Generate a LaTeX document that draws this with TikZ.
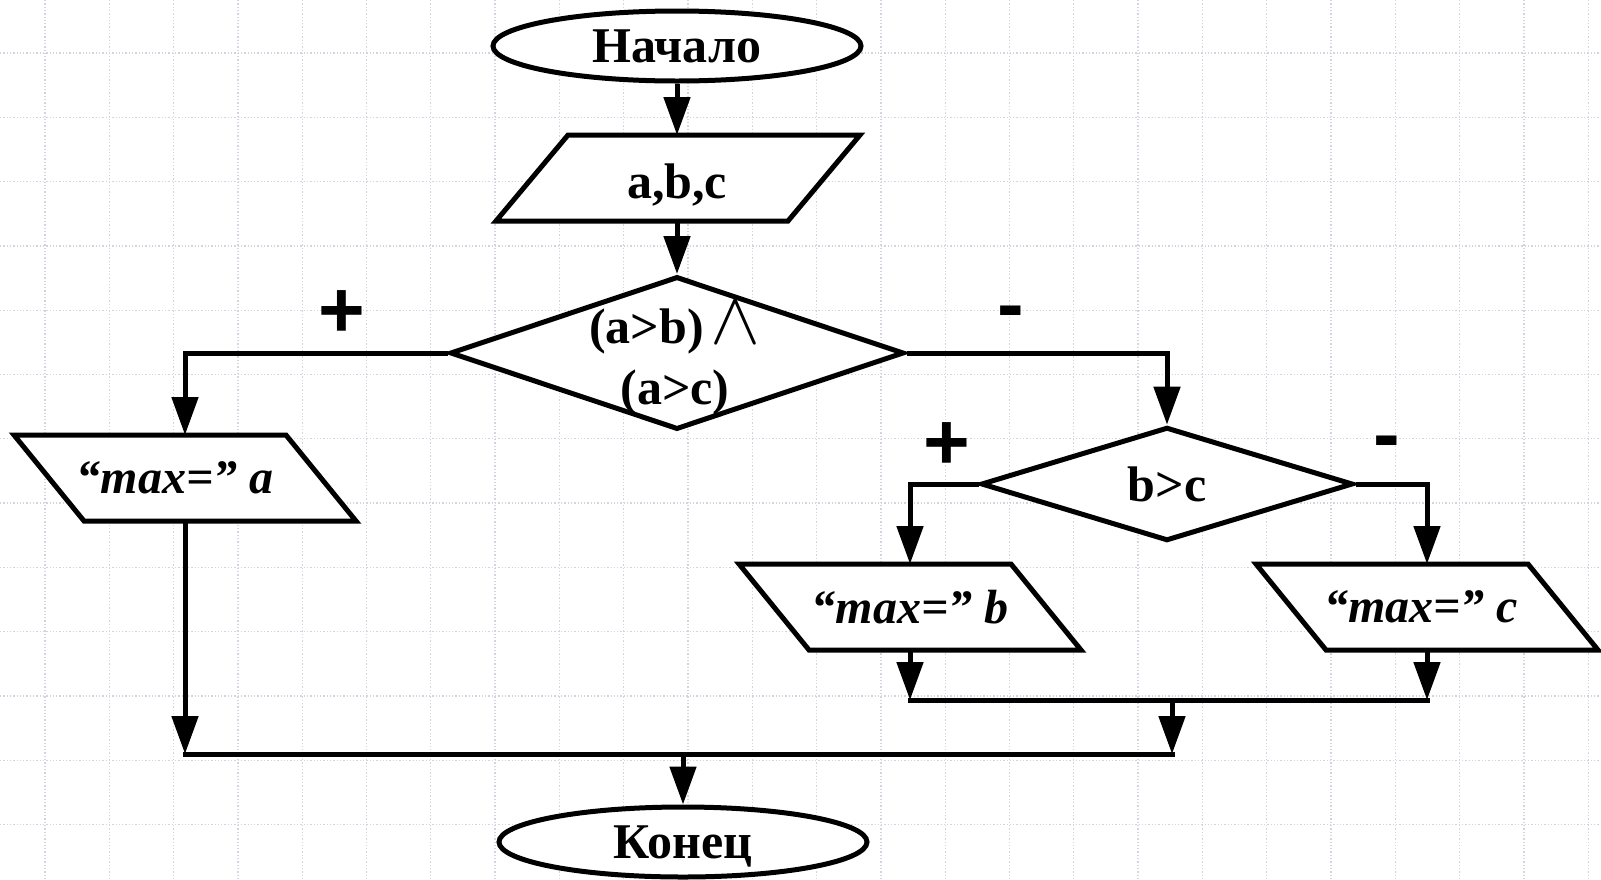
\documentclass[tikz,border=0pt]{standalone}
\usepackage{fontspec}
\setmainfont{Liberation Serif}
\newfontfamily\lsans{Liberation Sans}
\usetikzlibrary{shapes.geometric,arrows.meta}
\definecolor{gridc}{RGB}{212,212,224}
% parallelogram outline: #1 cx, #2 cy, #3 half width, #4 slant (+ = top shifted right)
\newcommand\ioshape[4]{%
  \draw[box,fill=white] ({#1-#3+#4},{#2-43}) -- ({#1+#3+#4},{#2-43}) -- ({#1+#3-#4},{#2+43}) -- ({#1-#3-#4},{#2+43}) -- cycle;}
\begin{document}
\begin{tikzpicture}[x=1pt,y=-1pt,
  box/.style={line width=5pt, line join=miter},
  conn/.style={line width=5pt},
  arr/.style={conn,-{Triangle[length=38pt,width=26pt]}},
  term/.style={ellipse, draw, fill=white, line width=5pt, minimum width=368pt, minimum height=70pt, inner sep=0pt, text depth=0pt, font=\fontsize{50}{55}\selectfont\bfseries},
  dec/.style={diamond, draw, fill=white, line width=5pt, inner sep=0pt},
  txt/.style={font=\fontsize{50}{61}\selectfont\bfseries, inner sep=0pt, align=center},
  iobox/.style={rectangle, minimum height=86pt, minimum width=150pt, inner sep=0pt, outer sep=0pt},
  otxt/.style={font=\fontsize{48}{52}\selectfont\bfseries\itshape},
  lab/.style={font=\fontsize{80}{80}\selectfont\lsans\bfseries, inner sep=0pt},
  gridline/.style={dotted, line width=1.3pt, gridc}
]
\useasboundingbox (0,0) rectangle (1601,879);
\fill[white] (0,0) rectangle (1601,879);
% background grid
\foreach \i in {0,...,24} \draw[gridline] ({45+64.3*\i},0) -- ({45+64.3*\i},879);
\foreach \j in {0,...,13} \draw[gridline] (0,{53+64.3*\j}) -- (1601,{53+64.3*\j});

% shapes
\node[term] (start) at (677,46) {Начало};
\ioshape{678}{178}{146}{36}
\node[iobox, txt, text height=40pt, text depth=0pt] (in) at (677,178) {a,b,c};
\node[dec, minimum width=454pt, minimum height=153pt] (d1) at (677,353) {};
\node[txt] (d1t) at (675,358) {(a>b)\hspace{7pt}\scalebox{7.5}{\fontsize{10}{12}\selectfont$\wedge$}\\(a>c)};
\ioshape{185}{478}{136}{-35}
\node[iobox, otxt] (outa) at (185,478) {};
\node[otxt] (outat) at (175,478) {“max=” a};
\node[dec, minimum width=372pt, minimum height=105pt, txt] (d2) at (1167,484) {b>c};
\ioshape{910}{607}{136}{-35}
\node[iobox, otxt] (outb) at (910,607) {“max=” b};
\ioshape{1427}{607}{136}{-35}
\node[iobox, otxt] (outc) at (1427,607) {};
\node[otxt] (outct) at (1421,607) {“max=” c};
\node[term] (end) at (683,842) {Конец};

% labels
\node[lab] (p1) at (342,314) {+};
\node[lab] (m1) at (1011,319) {-};
\node[lab] (p2) at (947,446) {+};
\node[lab] (m2) at (1387,449) {-};

% junction points
\coordinate (ja) at (185,754);
\coordinate (jm) at (1172,754);
\coordinate (je) at (683,754);
\coordinate (jb) at (910,700);
\coordinate (jc) at (1427,700);
\coordinate (jbc) at (1172,700);

% connectors
\draw[arr] (start) -- (in);
\draw[arr] (in) -- (d1);
\draw[arr] (d1.west) -| (outa.north);
\draw[arr] (d1.east) -| (d2.north);
\draw[arr] (d2.west) -| (outb.north);
\draw[arr] (d2.east) -| (outc.north);
\draw[arr] (outb.south) -- (jb);
\draw[arr] (outc.south) -- (jc);
\draw[conn, line cap=rect] (jb) -- (jc);
\draw[arr] (jbc) -- (jm);
\draw[arr] (outa.south) -- (ja);
\draw[conn, line cap=rect] (ja) -- (jm);
\draw[arr] (je) -- (end);
\end{tikzpicture}
\end{document}
